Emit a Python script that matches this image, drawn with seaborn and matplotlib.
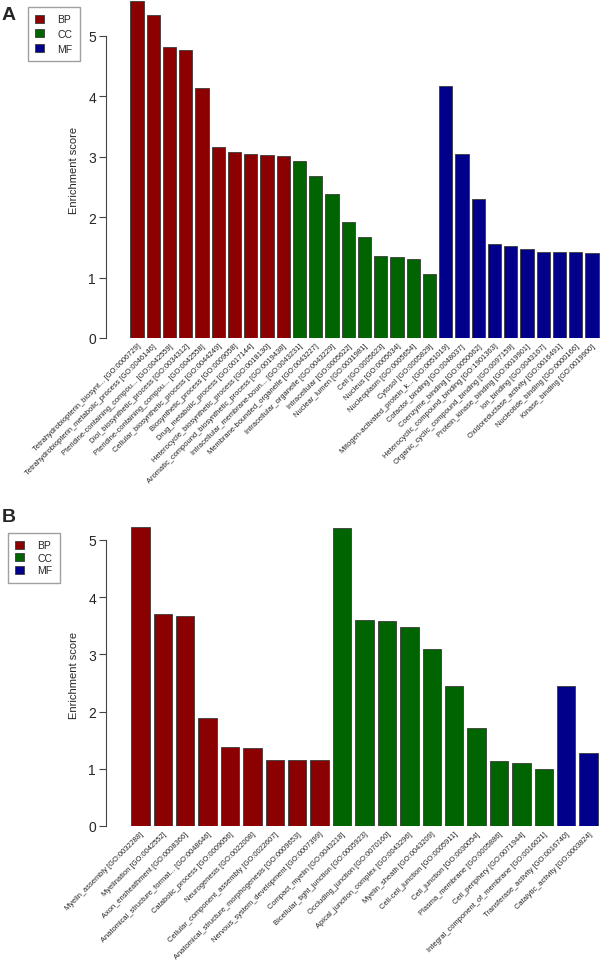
import numpy as np
import pandas as pd
import matplotlib
matplotlib.use("Agg")
import matplotlib.pyplot as plt
import seaborn as sns

sns.set_style("white")
plt.rcParams['font.family'] = ['Liberation Sans', 'DejaVu Sans']

# panel A
a_terms = [
    "Tetrahydrobiopterin_biosynt... [GO:0006729]",
    "Tetrahydrobiopterin_metabolic_process [GO:0046146]",
    "Pteridine-containing_compou... [GO:0042559]",
    "Diol_biosynthetic_process [GO:0034312]",
    "Pteridine-containing_compou... [GO:0042558]",
    "Cellular_biosynthetic_process [GO:0044249]",
    "Biosynthetic_process [GO:0009058]",
    "Drug_metabolic_process [GO:0017144]",
    "Heterocycle_biosynthetic_process [GO:0018130]",
    "Aromatic_compound_biosynthetic_process [GO:0019438]",
    "Intracellular_membrane-boun... [GO:0043231]",
    "Membrane-bounded_organelle [GO:0043227]",
    "Intracellular_organelle [GO:0043229]",
    "Intracellular [GO:0005622]",
    "Nuclear_lumen [GO:0031981]",
    "Cell [GO:0005623]",
    "Nucleus [GO:0005634]",
    "Nucleoplasm [GO:0005654]",
    "Cytosol [GO:0005829]",
    "Mitogen-activated_protein_k... [GO:0051019]",
    "Cofactor_binding [GO:0048037]",
    "Coenzyme_binding [GO:0050662]",
    "Heterocyclic_compound_binding [GO:1901363]",
    "Organic_cyclic_compound_binding [GO:0097159]",
    "Protein_kinase_binding [GO:0019901]",
    "Ion_binding [GO:0043167]",
    "Oxidoreductase_activity [GO:0016491]",
    "Nucleotide_binding [GO:0000166]",
    "Kinase_binding [GO:0019900]",
]
a_scores = [5.58, 5.35, 4.82, 4.77, 4.14, 3.16, 3.08, 3.05, 3.03, 3.01,
            2.93, 2.68, 2.38, 1.92, 1.68, 1.36, 1.34, 1.31, 1.06,
            4.17, 3.04, 2.30, 1.55, 1.52, 1.48, 1.43, 1.42, 1.42, 1.41]
a_groups = ["BP"] * 10 + ["CC"] * 9 + ["MF"] * 10

# panel B
b_terms = [
    "Myelin_assembly [GO:0032288]",
    "Myelination [GO:0042552]",
    "Axon_ensheathment [GO:0008366]",
    "Anatomical_structure_format... [GO:0048646]",
    "Catabolic_process [GO:0009056]",
    "Neurogenesis [GO:0022008]",
    "Cellular_component_assembly [GO:0022607]",
    "Anatomical_structure_morphogenesis [GO:0009653]",
    "Nervous_system_development [GO:0007399]",
    "Compact_myelin [GO:0043218]",
    "Bicellular_tight_junction [GO:0005923]",
    "Occluding_junction [GO:0070160]",
    "Apical_junction_complex [GO:0043296]",
    "Myelin_sheath [GO:0043209]",
    "Cell-cell_junction [GO:0005911]",
    "Cell_junction [GO:0030054]",
    "Plasma_membrane [GO:0005886]",
    "Cell_periphery [GO:0071944]",
    "Integral_component_of_membrane [GO:0016021]",
    "Transferase_activity [GO:0016740]",
    "Catalytic_activity [GO:0003824]",
]
b_scores = [5.23, 3.71, 3.67, 1.89, 1.38, 1.36, 1.16, 1.16, 1.15,
            5.21, 3.60, 3.58, 3.48, 3.09, 2.44, 1.71, 1.14, 1.10, 1.00,
            2.44, 1.27]
b_groups = ["BP"] * 9 + ["CC"] * 10 + ["MF"] * 2

palette = {"BP": "#8B0000", "CC": "#006400", "MF": "#00008B"}

W, H = 601, 962
fig = plt.figure(figsize=(W / 100, H / 100), dpi=100)


def panel(rect, terms, scores, groups, ymax, letter, letter_y, leg_xy,
          ylab_y, leg_space):
    ax = fig.add_axes(rect)
    df = pd.DataFrame({"term": terms, "score": scores, "group": groups})
    sns.barplot(data=df, x="term", y="score", hue="group", palette=palette,
                order=terms, hue_order=["BP", "CC", "MF"], dodge=False,
                width=0.82, saturation=1, edgecolor="#3a3a3a", linewidth=0.6,
                ax=ax)
    ax.set_xlim(-0.55, len(terms) - 0.45)
    ax.set_ylim(0, ymax)
    ax.set_yticks(range(0, 6))
    ax.tick_params(axis="y", direction="out", length=5, width=0.8,
                   color="#444444", labelsize=10, pad=2, left=True)
    ax.set_xticks(range(len(terms)))
    ax.set_xticklabels(terms, rotation=45, ha="right", rotation_mode="anchor",
                       fontsize=5.4, color="#222222")
    ax.tick_params(axis="x", length=0, pad=3)
    for s in ["top", "right", "bottom"]:
        ax.spines[s].set_visible(False)
    ax.spines["left"].set_position(("outward", 16))
    ax.spines["left"].set_bounds(0, 5)
    ax.spines["left"].set_color("#444444")
    ax.spines["left"].set_linewidth(0.8)
    ax.set_xlabel("")
    ax.set_ylabel("")
    fig.text(74 / W, 1 - ylab_y / H, "Enrichment score", rotation=90,
             ha="center", va="center", fontsize=8)
    fig.text(2 / W, 1 - letter_y / H, letter, fontsize=14, fontweight="bold",
             ha="left", va="center")
    handles, labels = ax.get_legend_handles_labels()
    ax.legend(handles, labels, loc="upper left",
              bbox_to_anchor=(leg_xy[0] / W, 1 - leg_xy[1] / H),
              bbox_transform=fig.transFigure, fontsize=7.5, frameon=True,
              fancybox=False, edgecolor="#888888", handlelength=0.8,
              handleheight=0.8, handletextpad=1.3, borderpad=0.7,
              labelspacing=leg_space, borderaxespad=0)
    return ax


panel([128 / W, 1 - 339 / H, 473 / W, 338 / H], a_terms, a_scores, a_groups,
      338 / 60.4, "A", 16, (28, 8), 170, 0.45)
panel([128 / W, 1 - 827 / H, 473 / W, 306 / H], b_terms, b_scores, b_groups,
      306 / 57.2, "B", 518, (8, 534), 675, 0.25)

fig.savefig("out.png", dpi=100)
